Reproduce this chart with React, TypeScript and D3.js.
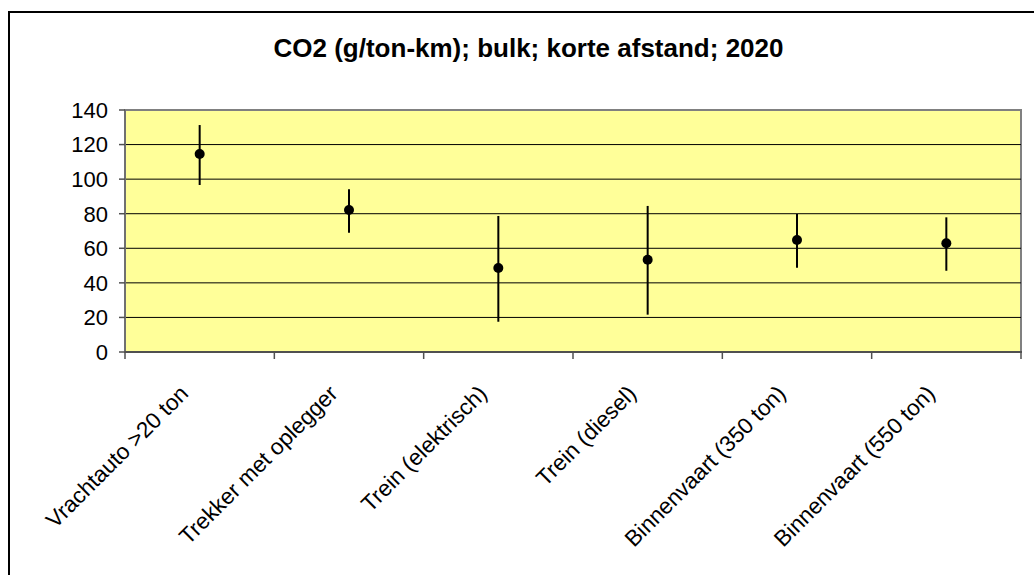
import React from "react";
import * as d3 from "d3";

const categories = [
  "Vrachtauto >20 ton",
  "Trekker met oplegger",
  "Trein (elektrisch)",
  "Trein (diesel)",
  "Binnenvaart (350 ton)",
  "Binnenvaart (550 ton)",
];
const values = [114.5, 82.1, 48.6, 53.4, 64.8, 62.9];
const highs = [131.3, 94.1, 78.7, 84.5, 79.8, 77.9];
const lows = [96.6, 69.0, 17.5, 21.6, 48.8, 47.0];
const yTicks = [0, 20, 40, 60, 80, 100, 120, 140];
const title = "CO2 (g/ton-km); bulk; korte afstand; 2020";

const W = 1034;
const H = 575;
const plot = { left: 125, right: 1021, top: 110, bottom: 352 };
const font = "'Liberation Sans', Arial, Helvetica, sans-serif";

export default function App() {
  const x = d3
    .scaleBand<string>()
    .domain(categories)
    .range([plot.left, plot.right])
    .padding(0);
  const y = d3.scaleLinear().domain([0, 140]).range([plot.bottom, plot.top]);
  const bw = x.bandwidth();
  const boundaries = categories.map((c) => x(c) as number).concat([plot.right]);

  return (
    <svg
      width={W}
      height={H}
      style={{ position: "absolute", left: 0, top: 0, background: "#fff" }}
    >
      <rect x={9} y={12} width={1040} height={600} fill="#fff" stroke="#000" strokeWidth={2} />
      <text
        x={528.5}
        y={56.5}
        textAnchor="middle"
        fontFamily={font}
        fontWeight="bold"
        fontSize={26}
      >
        {title}
      </text>
      <rect
        x={plot.left}
        y={plot.top}
        width={plot.right - plot.left}
        height={plot.bottom - plot.top}
        fill="#FFFF99"
        stroke="#808080"
        strokeWidth={2}
      />
      {yTicks
        .filter((t) => t !== 0 && t !== 140)
        .map((t) => (
          <line
            key={"g" + t}
            x1={plot.left}
            x2={plot.right}
            y1={y(t)}
            y2={y(t)}
            stroke="#000"
            strokeWidth={1}
          />
        ))}
      <line x1={plot.left} x2={plot.left} y1={plot.top} y2={plot.bottom + 1} stroke="#707070" strokeWidth={2} />
      <line x1={plot.left} x2={plot.right + 1} y1={plot.bottom} y2={plot.bottom} stroke="#505050" strokeWidth={2} />
      {yTicks.map((t) => (
        <g key={"t" + t}>
          <line x1={plot.left - 6} x2={plot.left} y1={y(t)} y2={y(t)} stroke="#505050" strokeWidth={1.5} />
          <text
            x={108}
            y={y(t)}
            dy="0.36em"
            textAnchor="end"
            fontFamily={font}
            fontSize={22}
          >
            {t}
          </text>
        </g>
      ))}
      {boundaries.map((bx, i) => (
        <line key={"xt" + i} x1={bx} x2={bx} y1={plot.bottom} y2={plot.bottom + 7} stroke="#505050" strokeWidth={1.5} />
      ))}
      {categories.map((c, i) => {
        const cx = (x(c) as number) + bw / 2;
        return (
          <g key={c}>
            <line x1={cx} x2={cx} y1={y(highs[i])} y2={y(lows[i])} stroke="#000" strokeWidth={2} />
            <circle cx={cx} cy={y(values[i])} r={5} fill="#000" />
            <text
              transform={`translate(${cx - 10},${plot.bottom + 43}) rotate(-45)`}
              textAnchor="end"
              fontFamily={font}
              fontSize={22.5}
            >
              {c}
            </text>
          </g>
        );
      })}
    </svg>
  );
}
